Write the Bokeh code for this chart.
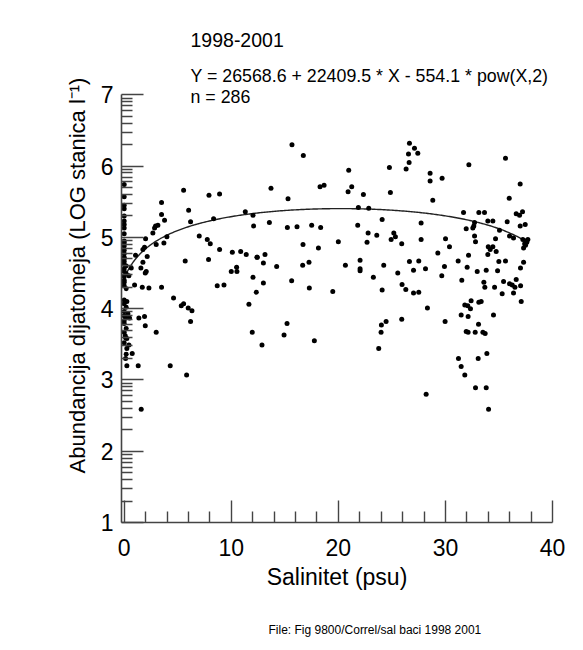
import math
import numpy as np
from bokeh.plotting import figure
from bokeh.models import Range1d, FixedTicker, Label, Title, ColumnDataSource
from bokeh.embed import file_html
from bokeh.resources import INLINE

# ---- data (salinity in psu, abundance as log10 cells/l) ----
salinity = [
    0.0, 0.0, 5.55, 7.92, 8.91, 3.49, 6.02, 3.49, 3.77, 6.20, 8.35, 11.31, 12.03, 12.09,
    0.0, 0.0, 0.0, 0.0, 2.93, 3.15, 2.84, 2.68, 2.00, 3.99, 2.99, 3.71, 7.01, 7.76, 8.04,
    8.91, 10.10, 10.88, 11.40, 12.40, 0.0, 0.0, 0.0, 0.0, 0.0, 0.0, 0.19, 0.0, 0.19, 0.44,
    0.66, 1.06, 1.90, 1.75, 2.15, 1.75, 1.56, 2.06, 1.97, 5.70, 7.88, 10.0, 10.50, 10.53, 12.03,
    0.0, 0.0, 0.19, 0.97, 1.69, 2.31, 3.49, 8.69, 9.32, 12.34, 4.61, 5.33, 5.55, 5.98, 6.33,
    6.20, 11.65, 11.96, 12.87, 0.25, 0.0, 0.19, 0.0, 0.35, 0.13, 0.50, 0.0, 0.19, 0.0, 0.13,
    0.25, 0.44, 0.25, 0.75, 0.19, 0.13, 0.25, 1.37, 1.90, 1.97, 2.99, 1.31, 4.30, 5.83, 1.59,
    15.67, 16.73, 13.71, 15.30, 18.29, 18.67, 20.97, 20.91, 21.25, 22.34, 21.87, 22.84, 24.77,
    24.86, 13.56, 15.24, 16.14, 17.51, 18.35, 21.81, 24.09, 22.78, 23.59, 25.18, 25.33, 24.93,
    25.92, 20.0, 22.68, 16.70, 18.14, 12.43, 13.15, 13.0, 14.24, 16.67, 17.26, 20.66, 22.03,
    22.03, 22.03, 24.24, 25.55, 23.27,
    13.0, 15.64, 17.29, 19.48, 24.09, 25.95, 26.30, 15.21, 14.93, 17.76, 24.46, 24.02, 23.99,
    23.77, 25.92,
    26.64, 27.11, 27.42, 26.55, 26.61, 26.33, 28.57, 28.57, 29.69, 32.19, 35.61, 36.98, 28.82,
    35.96, 31.69, 33.12, 33.65, 36.61, 36.92, 37.20, 27.73, 32.72, 32.65, 32.56, 31.94, 33.96,
    34.43, 35.77, 36.98, 37.45, 35.05, 35.99, 36.36, 32.72, 32.81, 34.68, 27.73, 30.01, 30.38,
    37.23, 37.70, 37.48, 37.30, 34.0, 34.43, 34.18, 34.74, 29.29, 32.16, 33.96, 26.64, 27.51,
    27.02, 28.14, 29.91, 31.19, 32.03, 29.66, 32.97, 33.81, 34.99, 35.61, 34.87, 37.30, 37.01,
    31.53, 36.61,
    33.59, 33.68, 34.59, 35.43, 35.99, 36.24, 36.49, 37.02, 36.36, 35.30, 37.08, 27.02, 27.51,
    28.32, 29.97, 31.81, 32.09, 32.40, 32.34, 33.12, 33.34, 31.47, 32.12, 34.49, 33.09, 31.94,
    32.12, 32.78, 33.50, 33.71, 33.87, 31.22, 33.06, 31.47, 31.81, 32.81, 33.81, 28.20, 34.03,
    37.60, 37.50, 37.40,
    0.0, 0.0, 0.0, 0.0, 0.0, 0.0, 0.0, 0.0, 0.0, 0.0, 0.0, 0.0, 0.0, 0.10,
]
abundance_log = [
    5.74, 5.57, 5.66, 5.59, 5.61, 5.49, 5.38, 5.32, 5.24, 5.22, 5.26, 5.36, 5.31, 5.16,
    5.30, 5.23, 5.13, 5.05, 5.16, 5.17, 5.13, 5.06, 4.98, 5.01, 4.90, 4.92, 5.02, 4.97, 4.91,
    4.83, 4.79, 4.80, 4.76, 4.72, 4.95, 4.88, 4.82, 4.77, 4.72, 4.66, 4.60, 4.56, 4.49, 4.46,
    4.57, 4.75, 4.86, 4.83, 4.73, 4.65, 4.57, 4.52, 4.50, 4.67, 4.69, 4.52, 4.58, 4.52, 4.44,
    4.37, 4.32, 4.28, 4.33, 4.30, 4.29, 4.30, 4.32, 4.33, 4.23, 4.15, 4.04, 4.07, 4.01, 3.97,
    3.82, 4.06, 3.67, 3.49, 4.10, 4.07, 4.02, 3.96, 3.93, 3.88, 3.87, 3.79, 3.72, 3.67, 3.59,
    3.58, 3.49, 3.44, 3.37, 3.36, 3.30, 3.20, 3.87, 3.89, 3.76, 3.67, 3.20, 3.20, 3.07, 2.59,
    6.30, 6.15, 5.69, 5.54, 5.71, 5.73, 5.94, 5.64, 5.71, 5.60, 5.42, 5.41, 5.98,
    5.63, 5.21, 5.14, 5.15, 5.17, 5.14, 5.17, 5.25, 5.06, 5.03, 5.06, 5.01, 4.97,
    4.91, 4.94, 4.93, 4.90, 4.85, 4.72, 4.76, 4.64, 4.59, 4.61, 4.65, 4.61, 4.68,
    4.56, 4.53, 4.61, 4.50, 4.44,
    4.36, 4.39, 4.29, 4.24, 4.26, 4.34, 4.27, 3.79, 3.63, 3.55, 3.82, 3.77, 3.67,
    3.44, 3.85,
    6.32, 6.25, 6.18, 6.17, 6.05, 5.96, 5.90, 5.79, 5.83, 6.02, 6.11, 5.75, 5.52,
    5.55, 5.35, 5.35, 5.35, 5.33, 5.31, 5.36, 5.20, 5.21, 5.16, 5.13, 5.12, 5.23,
    5.23, 5.22, 5.16, 5.18, 5.10, 5.02, 4.99, 5.02, 4.94, 4.98, 4.97, 4.98, 4.87,
    4.97, 4.97, 4.89, 4.85, 4.87, 4.87, 4.83, 4.80, 4.78, 4.75, 4.76, 4.66, 4.67,
    4.54, 4.56, 4.59, 4.67, 4.58, 4.46, 4.52, 4.54, 4.66, 4.67, 4.53, 4.65, 4.57,
    4.40, 4.41,
    4.37, 4.30, 4.30, 4.38, 4.35, 4.33, 4.30, 4.32, 4.22, 4.21, 4.10, 4.22, 4.23,
    4.01, 3.82, 4.05, 4.04, 4.11, 4.00, 4.09, 4.10, 3.91, 3.89, 3.91, 3.78, 3.68,
    3.67, 3.67, 3.67, 3.65, 3.37, 3.30, 3.30, 3.19, 3.07, 2.89, 2.89, 2.80, 2.59,
    4.93, 4.95, 4.91,
    5.45, 5.40, 5.18, 4.92, 4.70, 4.62, 4.52, 4.45, 4.40, 4.12, 3.90, 3.83, 3.52, 3.62,
]

# regression given on the chart: Y = a + b*X + c*X^2 (cells/l)
fit_coef = [26568.6, 22409.5, -554.1]

x_ticks = [0, 10, 20, 30, 40]
x_minor = [v for v in range(2, 40, 2) if v % 10 != 0]
y_ticks = [1, 2, 3, 4, 5, 6, 7]
y_minor = [d + math.log10(k) for d in range(1, 7) for k in range(2, 10)]

title_text = "1998-2001"
eq_text = "Y = 26568.6 + 22409.5 * X - 554.1 * pow(X,2)"
n_text = "n = 286"
file_text = "File: Fig 9800/Correl/sal baci 1998 2001"
x_label = "Salinitet (psu)"
y_label = "Abundancija dijatomeja (LOG stanica l\u207b\u00b9)"

FONT = "Liberation Sans"
AX = "#444444"

src = ColumnDataSource(dict(x=salinity, y=abundance_log))
cx = np.linspace(0, max(salinity), 300)
cy = np.log10(fit_coef[0] + fit_coef[1] * cx + fit_coef[2] * cx ** 2)

p = figure(frame_width=431, frame_height=494,
           x_range=Range1d(-0.25, 40), y_range=Range1d(1, 7.93),
           output_backend="svg", toolbar_location=None,
           min_border_left=121, min_border_right=31,
           min_border_top=28, min_border_bottom=128,
           background_fill_color="white", border_fill_color="white",
           outline_line_color=None)
p.grid.visible = False

p.line(cx, cy, line_color="#222222", line_width=1.4)
p.scatter("x", "y", source=src, size=5, fill_color="black", line_color=None)

for ax in (p.xaxis[0], p.yaxis[0]):
    ax.axis_line_color = AX
    ax.axis_line_width = 1.6
    ax.major_tick_line_color = AX
    ax.minor_tick_line_color = AX
    ax.major_tick_line_width = 1.4
    ax.minor_tick_line_width = 1.4
    ax.major_tick_in = 22
    ax.major_tick_out = 0
    ax.minor_tick_in = 11
    ax.minor_tick_out = 0
    ax.major_label_text_font = FONT
    ax.major_label_text_font_size = "23px"
    ax.major_label_text_color = "black"
    ax.axis_label_text_font = FONT
    ax.axis_label_text_font_style = "normal"
    ax.axis_label_text_color = "black"

xa = p.xaxis[0]
xa.ticker = FixedTicker(ticks=x_ticks, minor_ticks=x_minor)
xa.major_label_standoff = 16
xa.axis_label = x_label
xa.axis_label_text_font_size = "23px"
xa.axis_label_standoff = 5

ya = p.yaxis[0]
ya.ticker = FixedTicker(ticks=y_ticks, minor_ticks=y_minor)
ya.bounds = (1, 7)
ya.major_label_standoff = 8
ya.axis_label = y_label
ya.axis_label_text_font_size = "22px"
ya.axis_label_standoff = 8

for txt, yy, fs in ((title_text, 483, "19.5px"), (eq_text, 447, "17.8px"), (n_text, 426, "17.8px")):
    p.add_layout(Label(x=69, y=yy, x_units="screen", y_units="screen", text=txt,
                       text_align="left", text_baseline="middle",
                       text_font=FONT, text_font_size=fs, text_color="black"))

p.add_layout(Title(text=file_text, align="left", offset=147, standoff=57,
                   text_font=FONT, text_font_size="12px", text_font_style="normal",
                   text_color="black"), "below")

open("out.html", "w").write(file_html(p, INLINE))
